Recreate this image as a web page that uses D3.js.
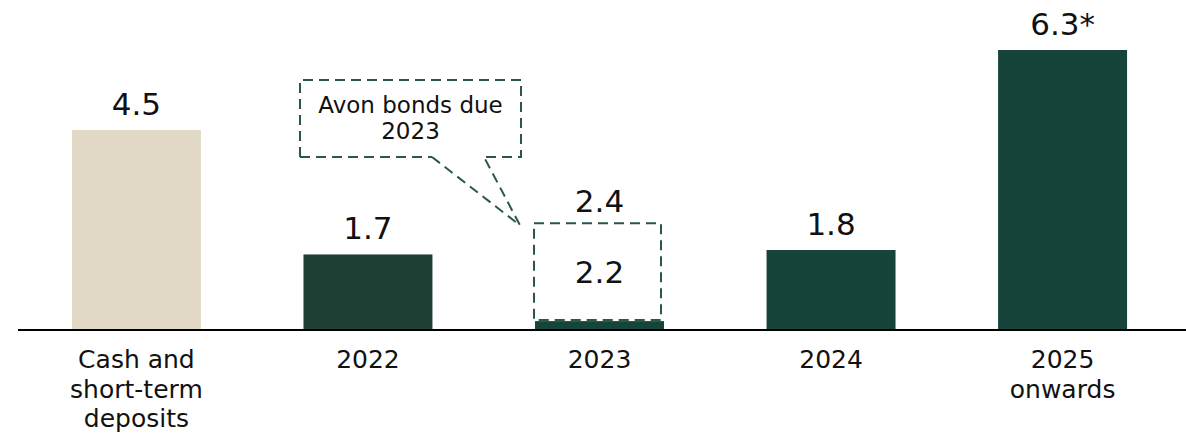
<!DOCTYPE html>
<html>
<head>
<meta charset="utf-8">
<script src="https://cdn.jsdelivr.net/npm/d3@7/dist/d3.min.js"></script>
<style>
  html, body { margin: 0; padding: 0; background: #fff; }
  svg { display: block; font-family: "DejaVu Sans", Verdana, sans-serif; }
</style>
</head>
<body>
<svg id="chart" width="1186" height="435"></svg>
<script>
// Debt maturity profile (€bn)
const categories = ["Cash and short-term deposits", "2022", "2023", "2024", "2025 onwards"];
const categoryLines = [["Cash and", "short-term", "deposits"], ["2022"], ["2023"], ["2024"], ["2025", "onwards"]];
const solidValues = [4.5, 1.7, 0.2, 1.8, 6.3];
const avonBonds = [0, 0, 2.2, 0, 0];
const totalLabels = ["4.5", "1.7", "2.4", "1.8", "6.3*"];
const avonLabel = ["", "", "2.2", "", ""];
const calloutLines = ["Avon bonds due", "2023"];

const W = 1186, H = 435;
const baseY = 330;
const svg = d3.select("#chart");

const x = d3.scaleBand()
  .domain(categories)
  .range([21, 1178])
  .paddingInner(0.443)
  .paddingOuter(0.22);

const y = d3.scaleLinear()
  .domain([0, 4.5])
  .range([baseY, 130]);

const colors = ["#e3d9c7", "#1e3f34", "#16433a", "#16433a", "#16433a"];
const dashColor = "#2b5747";
const textColor = "#111";

// Solid bars
svg.append("g").selectAll("rect")
  .data(categories)
  .join("rect")
  .attr("x", d => x(d))
  .attr("width", x.bandwidth())
  .attr("y", (d, i) => y(solidValues[i]))
  .attr("height", (d, i) => y(0) - y(solidValues[i]))
  .attr("fill", (d, i) => colors[i]);

// Dashed outline for the Avon bond portion stacked above the solid part
const avonIdx = categories.map((c, i) => i).filter(i => avonBonds[i] > 0);
svg.append("g").selectAll("rect")
  .data(avonIdx)
  .join("rect")
  .attr("x", i => x(categories[i]) - 1)
  .attr("width", x.bandwidth() - 2)
  .attr("y", i => y(solidValues[i] + avonBonds[i]))
  .attr("height", i => y(solidValues[i]) - y(solidValues[i] + avonBonds[i]) - 1)
  .attr("fill", "none")
  .attr("stroke", dashColor)
  .attr("stroke-width", 2)
  .attr("stroke-dasharray", "10,6");

// Labels inside the dashed box
svg.append("g").selectAll("text")
  .data(avonIdx)
  .join("text")
  .attr("x", i => x(categories[i]) + x.bandwidth() / 2)
  .attr("y", i => (y(solidValues[i]) + y(solidValues[i] + avonBonds[i])) / 2 + 11)
  .attr("text-anchor", "middle")
  .attr("font-size", 31)
  .attr("fill", textColor)
  .text(i => avonLabel[i]);

// Total labels above bars
svg.append("g").selectAll("text")
  .data(categories)
  .join("text")
  .attr("x", d => x(d) + x.bandwidth() / 2)
  .attr("y", (d, i) => y(solidValues[i] + avonBonds[i]) - (avonBonds[i] > 0 ? 11 : 15))
  .attr("text-anchor", "middle")
  .attr("font-size", 31)
  .attr("fill", textColor)
  .text((d, i) => totalLabels[i]);

// Baseline
svg.append("line")
  .attr("x1", 18).attr("x2", W)
  .attr("y1", baseY).attr("y2", baseY)
  .attr("stroke", "#000")
  .attr("stroke-width", 2);

// Category labels
const xAxis = d3.axisBottom(x).tickSize(0).tickFormat("");
const axisG = svg.append("g").attr("transform", `translate(0,${baseY})`).call(xAxis);
axisG.select(".domain").remove();
axisG.selectAll(".tick").each(function(d, i) {
  const t = d3.select(this).append("text")
    .attr("text-anchor", "middle")
    .attr("font-size", 25)
    .attr("fill", textColor)
    .attr("font-family", "DejaVu Sans, Verdana, sans-serif");
  categoryLines[i].forEach((ln, k) => {
    t.append("tspan").attr("x", 0).attr("y", 38 + k * 29.5).text(ln);
  });
});

// Callout pointing at the Avon bonds
avonIdx.forEach(i => {
  const bx = x(categories[i]);
  const tipX = bx - 15, tipY = y(solidValues[i] + avonBonds[i]) + 2;
  const box = { x0: bx - 235, x1: bx - 14, y0: 80, y1: 157 };
  const g = svg.append("g")
    .attr("fill", "none")
    .attr("stroke", dashColor)
    .attr("stroke-width", 2)
    .attr("stroke-dasharray", "10,6");
  g.append("path")
    .attr("d", `M${box.x0},${box.y1} L${box.x0},${box.y0} L${box.x1},${box.y0} L${box.x1},${box.y1} L${bx - 51},${box.y1}`);
  g.append("path")
    .attr("d", `M${box.x0},${box.y1} L${bx - 103},${box.y1}`);
  g.append("path")
    .attr("d", `M${bx - 103},${box.y1} L${tipX},${tipY} L${bx - 51},${box.y1}`);
  const cx = (box.x0 + box.x1) / 2;
  svg.append("g").selectAll("text")
    .data(calloutLines)
    .join("text")
    .attr("x", cx)
    .attr("y", (d, k) => 113 + k * 26)
    .attr("text-anchor", "middle")
    .attr("font-size", 23)
    .attr("fill", textColor)
    .text(d => d);
});
</script>
</body>
</html>
